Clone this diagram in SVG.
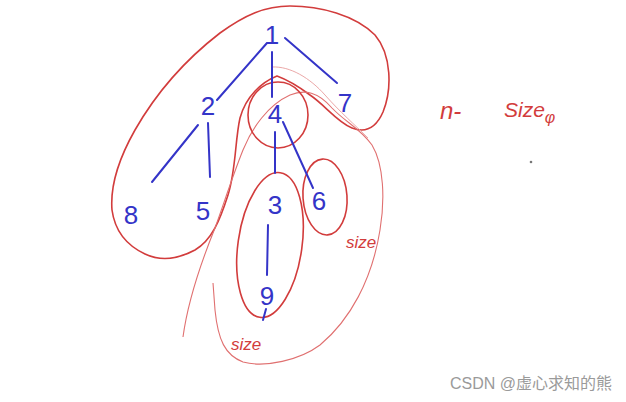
<svg xmlns="http://www.w3.org/2000/svg" width="626" height="402" viewBox="0 0 626 402">
<style>
.n{font-family:"Liberation Sans","DejaVu Sans",sans-serif;font-size:26px;fill:#3434c8;text-anchor:middle}
.e{stroke:#3434c8;stroke-width:2;stroke-linecap:round;fill:none}
.r{stroke:#d23c3c;stroke-width:1.6;fill:none}
.t{stroke:#e07070;stroke-width:1.1;fill:none}
.lt{stroke:#eba8a8;stroke-width:1;fill:none}
.rl{font-family:"Liberation Sans","DejaVu Sans",sans-serif;font-size:17px;fill:#d23c3c;font-style:italic}
</style>
<rect width="626" height="402" fill="#ffffff"/>
<g id="annotations">
<path class="r" d="M277,76 C262,82 246,96 240,118 C235,140 236,170 228,195 C220,220 212,240 195,250 C180,258 162,262 145,254 C128,246 115,232 112,210 C110,185 118,160 135,130 C155,95 185,60 220,33 C245,15 265,6 290,6 C320,6 355,15 375,35 C392,55 392,90 383,112 C376,128 365,133 352,128 C337,122 325,105 310,95 C298,86 288,80 277,76 Z"/>
<path class="t" d="M183,337 C188,300 200,265 215,228 C225,200 233,175 243,150 C252,128 268,105 290,95 C305,89 318,92 332,108 C345,122 360,128 372,145 C384,165 385,200 380,230 C372,280 350,320 320,345 C300,360 265,368 243,362 C225,355 218,340 215,310 L213,283"/>
<path class="lt" d="M272,67 C290,66 310,78 325,95 C340,112 355,125 368,138"/>
<ellipse class="r" cx="278" cy="115" rx="30" ry="33"/>
<ellipse class="r" cx="270" cy="245" rx="32" ry="73" transform="rotate(8 270 245)"/>
<ellipse class="r" cx="325" cy="197" rx="22" ry="38" transform="rotate(-4 325 197)"/>
<text class="rl" x="346" y="248">size</text>
<text class="rl" x="231" y="350">size</text>
<text class="rl" x="440" y="119" style="font-size:24px">n-</text>
<text class="rl" x="504" y="117" style="font-size:21px">Size<tspan dy="6" style="font-size:16px">φ</tspan></text>
<circle cx="531" cy="162" r="1.3" fill="#777"/>
</g>
<g id="connectors">
<line class="e" x1="267" y1="43" x2="217" y2="100"/>
<line class="e" x1="285" y1="38" x2="337" y2="83"/>
<line class="e" x1="272" y1="52" x2="272" y2="97"/>
<line class="e" x1="198" y1="125" x2="152" y2="182"/>
<line class="e" x1="208" y1="123" x2="210" y2="177"/>
<line class="e" x1="275" y1="132" x2="275" y2="173"/>
<line class="e" x1="283" y1="122" x2="313" y2="188"/>
<line class="e" x1="268" y1="225" x2="267" y2="275"/>
</g>
<g id="node-1"><text class="n" x="272" y="44">1</text></g>
<g id="node-2"><text class="n" x="208" y="115">2</text></g>
<g id="node-4"><text class="n" x="275" y="123">4</text></g>
<g id="node-7"><text class="n" x="345" y="112">7</text></g>
<g id="node-8"><text class="n" x="131" y="224">8</text></g>
<g id="node-5"><text class="n" x="203" y="220">5</text></g>
<g id="node-3"><text class="n" x="275" y="214">3</text></g>
<g id="node-6"><text class="n" x="319" y="210">6</text></g>
<g id="node-9"><text class="n" x="267" y="305">9</text><path class="e" d="M266,309 L263,320"/></g>
<text x="612" y="389" text-anchor="end" style="font-family:'Liberation Sans','Noto Sans CJK SC',sans-serif;font-size:16px;fill:#9a9a9a">CSDN @虚心求知的熊</text>
</svg>
